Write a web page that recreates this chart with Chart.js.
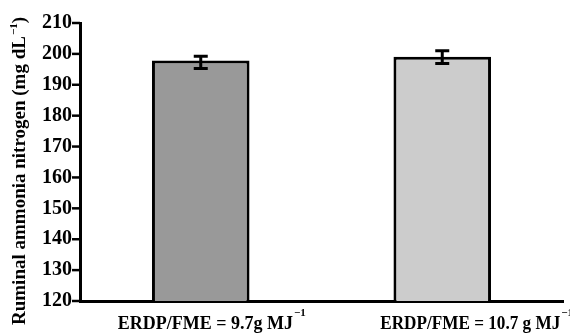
<!DOCTYPE html>
<html>
<head>
<meta charset="utf-8">
<script src="https://cdn.jsdelivr.net/npm/chart.js@4/dist/chart.umd.min.js"></script>
<style>
html,body{margin:0;padding:0;background:#fff;}
canvas{display:block;}
</style>
</head>
<body>
<canvas id="c" width="570" height="334"></canvas>
<script>
const categories = ["ERDP/FME = 9.7g MJ", "ERDP/FME = 10.7 g MJ"];
const values = [197.9, 199.1];
const errorHigh = [199.2, 201.0];
const errorLow = [195.3, 196.9];
const barColors = ["#999999", "#cccccc"];
const yMin = 120, yMax = 210, yStep = 10;
const yTitle = "Ruminal ammonia nitrogen (mg dL";

const FONT = '"Liberation Serif", "Times New Roman", serif';

const errorBars = {
  id: 'errorBars',
  afterDatasetsDraw(chart) {
    const ctx = chart.ctx;
    const meta = chart.getDatasetMeta(0);
    const ys = chart.scales.y;
    ctx.save();
    ctx.strokeStyle = '#000';
    ctx.lineWidth = 3;
    meta.data.forEach((bar, i) => {
      const x = bar.x;
      const yh = ys.getPixelForValue(errorHigh[i]);
      const yl = ys.getPixelForValue(errorLow[i]);
      ctx.beginPath();
      ctx.moveTo(x, yh); ctx.lineTo(x, yl);
      ctx.moveTo(x - 7, yh); ctx.lineTo(x + 7, yh);
      ctx.moveTo(x - 7, yl); ctx.lineTo(x + 7, yl);
      ctx.stroke();
    });
    ctx.restore();
  }
};

const textPlugin = {
  id: 'texts',
  afterDraw(chart) {
    const ctx = chart.ctx;
    const xs = chart.scales.x;
    const ys = chart.scales.y;
    ctx.save();
    // y tick marks
    ctx.strokeStyle = '#000';
    ctx.lineWidth = 2.5;
    ys.ticks.forEach(t => {
      const y = ys.getPixelForValue(t.value);
      ctx.beginPath();
      ctx.moveTo(ys.right - 8, y);
      ctx.lineTo(ys.right, y);
      ctx.stroke();
    });
    ctx.fillStyle = '#000';
    ctx.textBaseline = 'alphabetic';
    ctx.textAlign = 'left';
    // x category labels with superscript
    const offsets = [-83, -62];
    const widths = [192, 180];
    categories.forEach((lab, i) => {
      const cx = xs.getPixelForValue(i);
      const left = cx + offsets[i];
      ctx.font = 'bold 18px ' + FONT;
      ctx.fillText(lab, left, 329, widths[i]);
      const w = Math.min(ctx.measureText(lab).width, widths[i]);
      ctx.font = 'bold 11px ' + FONT;
      ctx.fillText('\u2212' + '1', left + w + 1, 316);
    });
    // y title rotated
    ctx.translate(25, 171);
    ctx.rotate(-Math.PI / 2);
    ctx.font = 'bold 19px ' + FONT;
    const tw = ctx.measureText(yTitle).width;
    ctx.font = 'bold 11px ' + FONT;
    const sw = ctx.measureText('\u22121').width;
    ctx.font = 'bold 19px ' + FONT;
    const pw = ctx.measureText(')').width;
    const total = tw + sw + 1 + pw;
    let x0 = -total / 2;
    ctx.fillText(yTitle, x0, 0);
    ctx.font = 'bold 11px ' + FONT;
    ctx.fillText('\u22121', x0 + tw + 1, -8);
    ctx.font = 'bold 19px ' + FONT;
    ctx.fillText(')', x0 + tw + 1 + sw, 0);
    ctx.restore();
  }
};

new Chart(document.getElementById('c'), {
  type: 'bar',
  data: {
    labels: categories,
    datasets: [{
      data: values,
      backgroundColor: barColors,
      borderColor: '#000',
      borderWidth: 3,
      borderSkipped: 'bottom',
      barPercentage: 0.404,
      categoryPercentage: 1.0
    }]
  },
  options: {
    responsive: false,
    animation: false,
    devicePixelRatio: 1,
    layout: { padding: { top: 23, right: 7, left: 0, bottom: 0 } },
    plugins: { legend: { display: false }, tooltip: { enabled: false } },
    scales: {
      x: {
        grid: { display: false },
        border: { display: true, color: '#000', width: 3 },
        ticks: { display: false },
        afterFit(s) { s.height = 33; }
      },
      y: {
        min: yMin, max: yMax,
        grid: { display: false, drawTicks: false },
        border: { display: true, color: '#000', width: 3 },
        ticks: { stepSize: yStep, padding: 8, color: '#000', font: { family: FONT, size: 20, weight: 'bold' } },
        afterFit(s) { s.width = 80; }
      }
    }
  },
  plugins: [errorBars, textPlugin]
});
</script>
</body>
</html>
